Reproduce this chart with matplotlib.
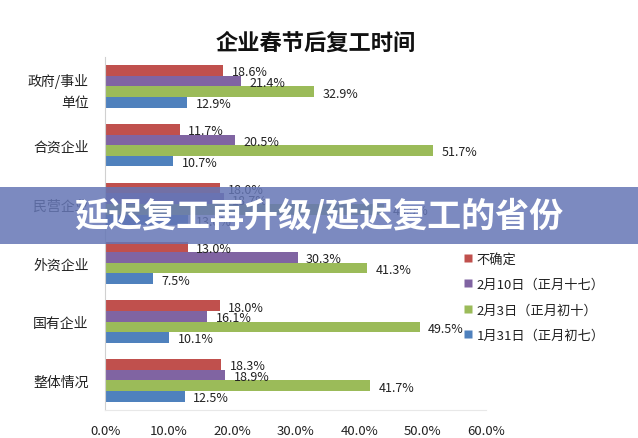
import numpy as np
import matplotlib
matplotlib.use('Agg')
import matplotlib.pyplot as plt
from matplotlib.lines import Line2D
from matplotlib.patches import Rectangle

plt.rcParams['font.family'] = ['Noto Sans CJK SC', 'DejaVu Sans']

# data (percent)
categories = ['政府/事业\n单位', '合资企业', '民营企业', '外资企业', '国有企业', '整体情况']
series_names = ['不确定', '2月10日（正月十七）', '2月3日（正月初十）', '1月31日（正月初七）']
unsure = [18.6, 11.7, 18.0, 13.0, 18.0, 18.3]
feb10 = [21.4, 20.5, 18.7, 30.3, 16.1, 18.9]
feb3 = [32.9, 51.7, 43.9, 41.3, 49.5, 41.7]
jan31 = [12.9, 10.7, 13.0, 7.5, 10.1, 12.5]
xticks = [0, 10, 20, 30, 40, 50, 60]

colors = ['#C0504D', '#8064A2', '#9BBB59', '#4F81BD']
series = [unsure, feb10, feb3, jan31]

fig = plt.figure(figsize=(6.38, 4.39), dpi=100)
ax = fig.add_axes([0.165, 0.064, 0.597, 0.804])

y = np.arange(len(categories))
h = 0.18
for k, (vals, c) in enumerate(zip(series, colors)):
    pos = y + (k - 1.5) * h
    ax.barh(pos, vals, height=h, color=c, edgecolor='none')
    for p, v in zip(pos, vals):
        ax.annotate(f'{v:.1f}%', (v, p), xytext=(6, -1), textcoords='offset points',
                    va='center', ha='left', fontsize=9, color='#222222')

ax.set_ylim(len(categories) - 0.5, -0.5)
ax.set_xlim(0, 60)
ax.set_yticks(y)
ax.set_yticklabels(categories, fontsize=10, color='#222222', linespacing=1.6)
ax.set_xticks(xticks)
ax.set_xticklabels([f'{t:.1f}%' for t in xticks], fontsize=9.5, color='#222222')
ax.tick_params(axis='both', length=0)
ax.tick_params(axis='y', pad=12)
ax.tick_params(axis='x', pad=10)
for s in ['top', 'right']:
    ax.spines[s].set_visible(False)
ax.spines['left'].set_color('#d0d0d0')
ax.spines['bottom'].set_color('#e8e8e8')

handles = [Line2D([], [], marker='s', linestyle='none', markersize=6,
                  markerfacecolor=c, markeredgecolor='none') for c in colors]
fig.legend(handles, series_names, loc='upper left', bbox_to_anchor=(0.706, 0.45),
           frameon=False, fontsize=9.5, labelspacing=0.95, handletextpad=0.3,
           handlelength=0.8, labelcolor='#222222')

fig.text(0.495, 0.902, '企业春节后复工时间', ha='center', va='center',
         fontsize=16, fontweight='bold', color='#111111')

# banner over the middle of the chart
fig.patches.append(Rectangle((0, 1 - 245 / 439), 1, 57 / 439, transform=fig.transFigure,
                             facecolor='#6576B5', alpha=0.85, edgecolor='none', zorder=5))
fig.text(0.5, 1 - 216 / 439, '延迟复工再升级/延迟复工的省份', ha='center', va='center',
         fontsize=24.5, fontweight='bold', color='white', zorder=6)

fig.savefig('out.png', dpi=100)
